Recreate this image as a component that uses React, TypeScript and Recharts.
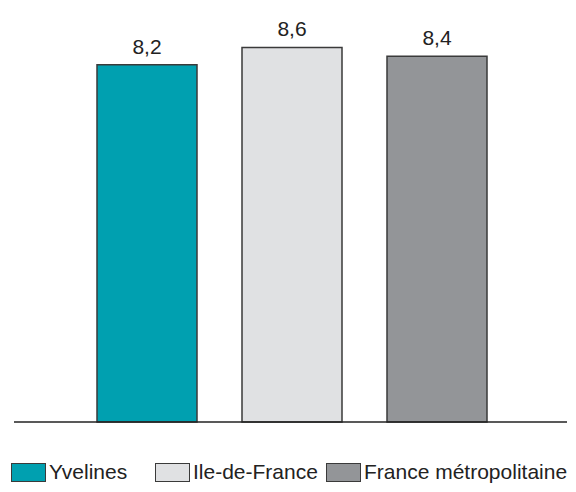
import { BarChart, Bar, XAxis, YAxis, Cell, LabelList } from "recharts";

const regions = ["Yvelines", "Ile-de-France", "France métropolitaine"];
const values = [8.2, 8.6, 8.4];
const colors = ["#00a0b0", "#e0e1e3", "#939598"];
const legendLeft = [11, 155, 326];

const data = regions.map((name, i) => ({ name, value: values[i] }));

const font = "'Liberation Sans', Arial, sans-serif";

export default function App() {
  return (
    <div style={{ position: "absolute", left: 0, top: 0, width: 576, height: 492, fontFamily: font }}>
      <BarChart
        width={576}
        height={492}
        data={data}
        margin={{ top: 30, right: 9, left: 14, bottom: 50 }}
      >
        <YAxis hide domain={[0, 9]} />
        <XAxis
          dataKey="name"
          tick={false}
          tickLine={false}
          height={20}
          padding={{ left: 60, right: 58 }}
          axisLine={{ stroke: "#222", strokeWidth: 1.5 }}
        />
        <Bar dataKey="value" barSize={100} stroke="#3a3a3a" strokeWidth={1.5} isAnimationActive={false}>
          {data.map((_d, i) => (
            <Cell key={i} fill={colors[i]} />
          ))}
          <LabelList
            dataKey="value"
            position="top"
            offset={11}
            formatter={(v: number) => String(v).replace(".", ",")}
            style={{ fontSize: 21, fill: "#222", fontFamily: font }}
          />
        </Bar>
      </BarChart>
      {regions.map((name, i) => (
        <div
          key={name}
          style={{
            position: "absolute",
            left: legendLeft[i],
            top: 460,
            display: "flex",
            alignItems: "center",
            fontSize: 21,
            color: "#222",
            whiteSpace: "nowrap",
          }}
        >
          <span
            style={{
              display: "inline-block",
              width: 35,
              height: 19,
              background: colors[i],
              border: "1.5px solid #3a3a3a",
              marginRight: 3,
              boxSizing: "border-box",
            }}
          />
          {name}
        </div>
      ))}
    </div>
  );
}
